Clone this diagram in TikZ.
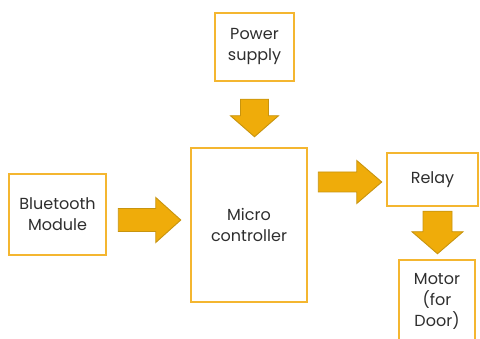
\documentclass[tikz,border=0pt]{standalone}
\usepackage{fontspec}
\setmainfont{Poppins}
\usetikzlibrary{calc}

\definecolor{boxgold}{HTML}{F4B630}
\definecolor{arrowgold}{HTML}{EFAC0A}
\definecolor{arrowedge}{HTML}{C8940E}
\definecolor{textgray}{HTML}{2E2E2E}

\tikzset{
  block/.style={draw=boxgold, line width=2.5pt, fill=white, text=textgray,
    align=center, inner sep=0pt, font=\fontsize{16}{21}\selectfont},
  blockarrow/.style={fill=arrowgold, draw=arrowedge, line width=0.9pt, line join=miter}
}

% fat arrow: start, tip, shaft half width, head half width, head length
\newcommand{\fatarrow}[5]{%
  \coordinate (neck) at ($(#2)!#5!(#1)$);
  \draw[blockarrow] ($(#1)!#3!90:(#2)$) -- ($(neck)!#3!90:(#2)$)
    -- ($(neck)!#4!90:(#2)$) -- (#2) -- ($(neck)!#4!-90:(#2)$)
    -- ($(neck)!#3!-90:(#2)$) -- ($(#1)!#3!-90:(#2)$) -- cycle;
}

\begin{document}
\begin{tikzpicture}[x=1pt, y=-1pt]
\clip (0,0) rectangle (480,339);
\useasboundingbox (0,0) rectangle (480,339);

%Blocks
\node[block, minimum width=79pt, minimum height=68pt] (power) at (254.5,47) {Power\\supply};
\node[block, minimum width=116pt, minimum height=154pt] (mcu) at (249,225) {Micro\\controller};
\node[block, minimum width=97pt, minimum height=81pt] (bt) at (57.5,214.5) {Bluetooth\\Module};
\node[block, minimum width=91pt, minimum height=53pt] (relay) at (432.5,179.5) {Relay};
\node[block, minimum width=76pt, minimum height=82pt] (motor) at (437,301) {Motor\\(for\\Door)};

%Arrow end points
\coordinate (pw-a) at ($(power.south)+(0,17)$);
\coordinate (pw-b) at ($(pw-a |- mcu.north)+(0,-10)$);
\coordinate (bt-a) at ($(bt.east)+(11,5.5)$);
\coordinate (bt-b) at ($(mcu.west |- bt-a)+(-9,0)$);
\coordinate (mc-a) at ($(mcu.east |- relay.west)+(10,2.5)$);
\coordinate (mc-b) at ($(relay.west |- mc-a)+(-4,0)$);
\coordinate (rl-a) at ($(relay.south)+(5,4)$);
\coordinate (rl-b) at ($(rl-a |- motor.north)+(0,-5)$);

%Arrows
\fatarrow{pw-a}{pw-b}{14pt}{24pt}{21pt}
\fatarrow{bt-a}{bt-b}{11.5pt}{22.5pt}{25pt}
\fatarrow{mc-a}{mc-b}{10pt}{21.5pt}{25pt}
\fatarrow{rl-a}{rl-b}{14.5pt}{25.5pt}{22pt}

\end{tikzpicture}
\end{document}
